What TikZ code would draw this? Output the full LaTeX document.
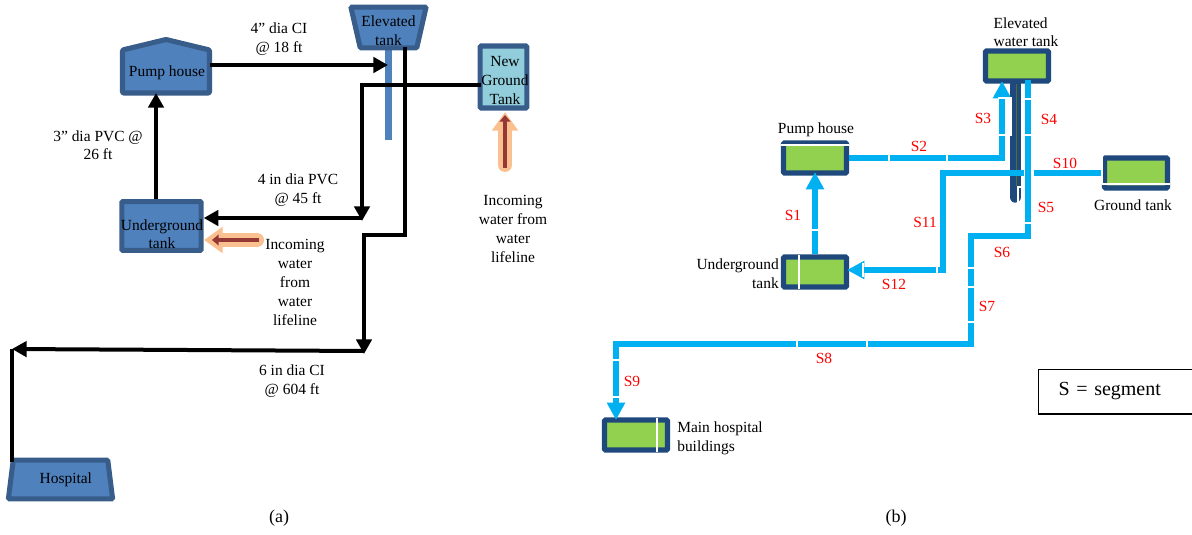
\documentclass[tikz,border=0pt]{standalone}
\usepackage{fontspec}
\setmainfont{Liberation Serif}
\usetikzlibrary{arrows.meta,shapes.geometric}

\definecolor{tankblue}{HTML}{4F81BD}
\definecolor{tankedge}{HTML}{385D8A}
\definecolor{newblue}{HTML}{92CDDC}
\definecolor{navy}{HTML}{1F497D}
\definecolor{tankgreen}{HTML}{92D050}
\definecolor{pipecyan}{HTML}{00B0F0}
\definecolor{inflow}{HTML}{FAC090}
\definecolor{inflowdark}{HTML}{953735}

\tikzset{
  tanktext/.style={inner sep=0pt,align=center,font=\fontsize{11.6}{14.2}\selectfont},
  lab/.style={tanktext,yshift=-0.9pt},
  seglab/.style={tanktext,text=red},
  capt/.style={inner sep=0pt,font=\fontsize{13.5}{16}\selectfont},
  bluetank/.style={draw=tankedge,fill=tankblue,line width=3.8pt,rounded corners=0.8pt,inner sep=0pt},
  greentank/.style={rectangle,draw=navy,fill=tankgreen,line width=4pt,rounded corners=0.8pt,inner sep=0pt,
    minimum width=47.2pt,minimum height=22.4pt},
  pipe/.style={draw=black,line width=3pt,line join=miter},
  arrowpipe/.style={pipe,-{Triangle[length=11pt,width=11.5pt]}},
  feed/.style={draw=inflow,line width=10.5pt,line cap=round,-{Triangle[length=14pt,width=19pt]}},
  feedcore/.style={draw=inflowdark,line width=3.4pt,-{Triangle[length=5pt,width=8pt]}},
  seg/.style={draw=pipecyan,line width=4.6pt,line join=miter},
  arrowseg/.style={seg,-{Triangle[length=13pt,width=13pt]}},
  segcut/.style={draw=white,line width=0.8pt}
}

\begin{document}
\begin{tikzpicture}[x=0.75pt,y=-0.75pt]
  \useasboundingbox (0,0) rectangle (1192,535);

  % (a) system layout
  \draw[bluetank,line join=round] (122.5,50) -- (166,39.5) -- (209.5,50) -- (209.5,93) -- (122.5,93) -- cycle;
  \node[lab] (pumpA) at (167,72) {Pump house};
  \coordinate (pumpAout) at (209.5,65);
  \coordinate (pumpAin) at (156,93);

  \node[bluetank,rectangle,minimum width=59.5pt,minimum height=36.5pt] (ugA) at (161.5,226) {};
  \node[lab] at (162,233) (ugAlab) {Underground\\tank};
  \coordinate (ugAtop) at (156,199);

  \fill[tankblue] (384.5,45) rectangle (391.5,140);
  \node[tanktext,bluetank,trapezium,shape border rotate=180,trapezium stretches=true,trapezium left angle=76,trapezium right angle=76,
    minimum width=56.5pt,minimum height=30.5pt] (elevA) at (388.5,27.5) {\rule{0pt}{12.5pt}Elevated\\tank};
  \coordinate (elevAout) at (405,47);
  \coordinate (tower) at (388,65);

  \node[bluetank,rectangle,fill=newblue,minimum width=35pt,minimum height=46.5pt] (newA) at (503.5,77) {};
  \node[lab] (newAlab) at (505,79) {New\\Ground\\Tank};
  \coordinate (newAout) at (481,85);

  \node[tanktext,bluetank,trapezium,trapezium stretches=true,trapezium left angle=77,trapezium right angle=77,
    minimum width=78.5pt,minimum height=29pt] (hospA) at (60.5,479.5) {\hspace*{8pt}Hospital};
  \coordinate (hospAin) at (12,462);

  \coordinate (j1) at (362,85);
  \coordinate (j2) at (362,221);
  \coordinate (j3) at (362,218);
  \coordinate (j4) at (405,235);
  \coordinate (j5) at (364,235);
  \coordinate (j6) at (364,354);
  \coordinate (j7) at (364,351);
  \coordinate (j8) at (12,349);

  \draw[arrowpipe] (pumpAout) -- (tower);
  \draw[arrowpipe] (ugAtop) -- (pumpAin);
  \draw[arrowpipe] (newAout) -- (j1) -- (j2);
  \draw[arrowpipe] (j3) -- (ugA.east |- j3);
  \draw[arrowpipe] (elevAout) -- (j4) -- (j5) -- (j6);
  \draw[arrowpipe] (j7) -- (j8);
  \draw[pipe] (j8) -- (hospAin);

  \coordinate (feedAs) at (257,240);
  \coordinate (feedAe) at (204,240);
  \coordinate (feedBs) at (505,165);
  \coordinate (feedBe) at (505,112);
  \draw[feed] (feedAs) -- (feedAe);
  \draw[feedcore] (259,240) -- (212,240);
  \draw[feed] (feedBs) -- (feedBe);
  \draw[feedcore] (505,168) -- (505,115);

  \node[lab] (l1) at (279,37.5) {4” dia CI\\@ 18 ft};
  \node[lab] (l2) at (98,144) {3” dia PVC @\\26 ft};
  \node[lab] (l3) at (298,189) {4 in dia PVC\\@ 45 ft};
  \node[lab] (l4) at (295,281) {Incoming\\water\\from\\water\\lifeline};
  \node[lab] (l5) at (513,228) {Incoming\\water from\\water\\lifeline};
  \node[lab] (l6) at (292,380) {6 in dia CI\\@ 604 ft};
  \node[capt] (capA) at (279,518) {(a)};

  % (b) segments
  \draw[navy,line width=8.6pt,line cap=round] (1015.3,83) -- (1015.3,197);
  \draw[black!45!tankgreen,line width=0.7pt] (1016,84) -- (1016,186);

  \node[greentank] (pumpB) at (815,158) {};
  \node[greentank] (ugB) at (815,272) {};
  \node[greentank] (elevB) at (1017,66) {};
  \node[greentank] (groundB) at (1136,173) {};
  \node[greentank] (hospB) at (636,435) {};

  \coordinate (s3end) at (1002,81);
  \coordinate (s2c) at (1002,158);
  \coordinate (s4a) at (1028,80);
  \coordinate (s5c) at (1028,236);
  \coordinate (s7c) at (971,236);
  \coordinate (s8c) at (971,344);
  \coordinate (s9c) at (616,344);
  \coordinate (s9end) at (616,420);
  \coordinate (s10a) at (1034,173);
  \coordinate (s10b) at (1024,173);
  \coordinate (s11c) at (943,173);
  \coordinate (s12c) at (943,270);
  \coordinate (s12end) at (847,270);
  \coordinate (s1end) at (815,172);

  \draw[seg] (groundB.west) -- (s10a);
  \draw[seg] (s10b) -- (s11c) -- (s12c) -- ([xshift=10pt]s12end);
  \draw[arrowseg] (s12c) -- (s12end);
  \draw[arrowseg] (ugB.north) -- (s1end);
  \draw[arrowseg] (pumpB.east) -- (s2c) -- (s3end);
  \draw[seg] (s4a) -- (s5c) -- (s7c) -- (s8c) -- (s9c) -- ++(0,20);
  \draw[arrowseg] (s9c) -- (s9end);

  % white cuts between the segments
  \draw[segcut] (811,230) -- (819,230);
  \draw[segcut] (889,153) -- (889,162);
  \draw[segcut] (947,153) -- (947,162);
  \draw[segcut] (998,135) -- (1011,135) -- (1011,98) -- (998,98);
  \draw[segcut] (1024,99) -- (1032,99);
  \draw[segcut] (1024,135) -- (1032,135);
  \draw[segcut] (1024,187) -- (1018,187) -- (1018,202);
  \draw[segcut] (1024,223) -- (1032,223);
  \draw[segcut] (967,268) -- (975,268);
  \draw[segcut] (967,287) -- (975,287);
  \draw[segcut] (967,322) -- (975,322);
  \draw[segcut] (797,340) -- (797,348);
  \draw[segcut] (867,340) -- (867,348);
  \draw[segcut] (612,360) -- (620,360);
  \draw[segcut] (612,397) -- (620,397);
  \draw[segcut] (937,266) -- (937,274);
  \draw[segcut] (863,263) -- (863,277);
  \draw[segcut] (781,145) -- (849,145);
  \draw[segcut] (799,255) -- (799,289);
  \draw[segcut] (1102,184) -- (1170,184);
  \draw[segcut] (1102,155) -- (1102,184);
  \draw[segcut] (657,418) -- (657,452);

  \node[seglab] (S1) at (793,215) {S1};
  \node[seglab] (S2) at (919,146) {S2};
  \node[seglab] (S3) at (983,118) {S3};
  \node[seglab] (S4) at (1049,119) {S4};
  \node[seglab] (S5) at (1046,207) {S5};
  \node[seglab] (S6) at (1002,252) {S6};
  \node[seglab] (S7) at (987,306) {S7};
  \node[seglab] (S8) at (824,358) {S8};
  \node[seglab] (S9) at (632,381) {S9};
  \node[seglab] (S10) at (1065,163) {S10};
  \node[seglab] (S11) at (925,222) {S11};
  \node[seglab] (S12) at (894,284) {S12};

  \node[lab] (pumpBlab) at (816,129) {Pump house};
  \node[lab,align=left] (elevBlab) at (1026,31) {Elevated\\water tank};
  \node[tanktext] (groundBlab) at (1133,205) {Ground tank};
  \node[tanktext,align=right,anchor=east] (ugBlab) at (779,273.5) {Underground\\tank};
  \node[lab,align=left,anchor=west] (hospBlab) at (677,437.5) {Main hospital\\buildings};

  \node[draw=black,line width=0.8pt,anchor=west,minimum height=33.7pt,text width=91.5pt,inner xsep=15pt,inner ysep=0pt,align=left,
    font=\fontsize{15}{18}\selectfont] (legend) at (1038,391.5) {S = segment};
  \node[capt] (capB) at (896,518) {(b)};
\end{tikzpicture}
\end{document}
